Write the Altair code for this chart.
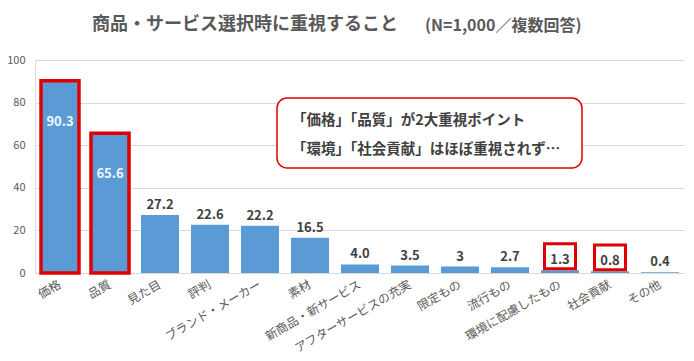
import altair as alt
import pandas as pd

categories = ["価格", "品質", "見た目", "評判", "ブランド・メーカー", "素材", "新商品・新サービス",
              "アフターサービスの充実", "限定もの", "流行もの", "環境に配慮したもの", "社会貢献", "その他"]
values = [90.3, 65.6, 27.2, 22.6, 22.2, 16.5, 4.0, 3.5, 3, 2.7, 1.3, 0.8, 0.4]
value_labels = ["90.3", "65.6", "27.2", "22.6", "22.2", "16.5", "4.0", "3.5", "3", "2.7", "1.3", "0.8", "0.4"]
outlined_bars = ["価格", "品質"]
boxed_labels = ["環境に配慮したもの", "社会貢献"]

title_main = "商品・サービス選択時に重視すること"
title_sub = "(N=1,000／複数回答)"
note_lines = ["「価格」「品質」が2大重視ポイント", "「環境」「社会貢献」はほぼ重視されず…"]

FONT = "Noto Sans CJK JP"
BLUE = "#5B9BD5"
RED = "#E00000"
GRAY = "#595959"

df = pd.DataFrame({
    "cat": categories,
    "val": values,
    "lab": value_labels,
    "outline": [c in outlined_bars for c in categories],
    "boxed": [c in boxed_labels for c in categories],
})

W, H = 650, 213

x = alt.X("cat:N", sort=categories,
          scale=alt.Scale(paddingInner=0.24, paddingOuter=0.12),
          axis=alt.Axis(title=None, labelAngle=330, labelAlign="right", labelBaseline="middle",
                        labelFontSize=12, labelColor=GRAY, labelFont=FONT, labelPadding=10,
                        ticks=False, domainColor="#D9D9D9", labelLimit=200))
y = alt.Y("val:Q", scale=alt.Scale(domain=[0, 100]),
          axis=alt.Axis(title=None, values=[0, 20, 40, 60, 80, 100], ticks=False, domain=False,
                        gridColor="#D9D9D9", labelFontSize=11, labelColor=GRAY, labelPadding=10,
                        labelFont=FONT))

base = alt.Chart(df)

bars = base.mark_bar(color=BLUE, stroke=RED).encode(
    x=x, y=y,
    strokeWidth=alt.condition("datum.outline", alt.value(3.5), alt.value(0)),
)

xs = alt.X("cat:N", sort=categories)

inside = base.transform_filter("datum.outline").mark_text(
    color="#F2F6FC", fontSize=13, fontWeight="bold", font=FONT, dy=41, baseline="middle"
).encode(x=xs, y="val:Q", text="lab:N")

outside = base.transform_filter("!datum.outline").mark_text(
    color="#404040", fontSize=13, fontWeight="bold", font=FONT, dy=-3, baseline="bottom"
).encode(x=xs, y="val:Q", text="lab:N")

boxes = base.transform_filter("datum.boxed").mark_point(
    shape="M-1,-0.8L1,-0.8L1,0.8L-1,0.8Z", size=961, filled=False, stroke=RED,
    strokeWidth=3, opacity=1, yOffset=-14
).encode(x=xs, y="val:Q")

note_box = alt.Chart(pd.DataFrame({"k": [0]})).mark_rect(
    fill="white", stroke=RED, strokeWidth=1.5, cornerRadius=10
).encode(x=alt.value(242), x2=alt.value(547), y=alt.value(38), y2=alt.value(108))

note1 = alt.Chart(pd.DataFrame({"t": [note_lines[0]]})).mark_text(
    align="left", baseline="middle", fontSize=14.5, fontWeight="bold", color="#404040", font=FONT
).encode(x=alt.value(257), y=alt.value(61), text="t:N")
note2 = alt.Chart(pd.DataFrame({"t": [note_lines[1]]})).mark_text(
    align="left", baseline="middle", fontSize=14.5, fontWeight="bold", color="#404040", font=FONT
).encode(x=alt.value(257), y=alt.value(90), text="t:N")

t1 = alt.Chart(pd.DataFrame({"t": [title_main]})).mark_text(
    align="left", baseline="middle", fontSize=18, fontWeight="bold", color=GRAY, font=FONT
).encode(x=alt.value(57), y=alt.value(-35), text="t:N")
t2 = alt.Chart(pd.DataFrame({"t": [title_sub]})).mark_text(
    align="left", baseline="middle", fontSize=16, fontWeight="bold", color=GRAY, font=FONT
).encode(x=alt.value(390), y=alt.value(-34), text="t:N")

chart = alt.layer(bars, inside, outside, boxes, note_box, note1, note2, t1, t2).properties(
    width=W, height=H,
    autosize=alt.AutoSizeParams(type="none"),
    padding={"left": 27, "top": 52, "right": 0, "bottom": 80},
).configure_view(stroke=None).configure(background="white")

chart.save("out.html", embed_options={"renderer": "svg", "actions": False})
